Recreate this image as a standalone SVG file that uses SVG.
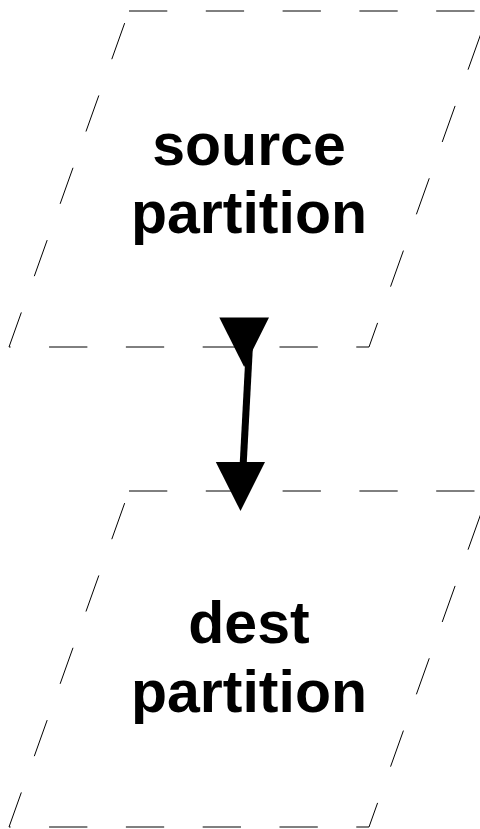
<svg xmlns="http://www.w3.org/2000/svg" width="480" height="829" viewBox="0 0 480 829">
<style>
.shape{fill:none;stroke:#000;stroke-width:1;stroke-dasharray:38.3 38.5}
.lbl{font-family:"Liberation Sans",Arial,sans-serif;font-weight:bold;font-size:59px;fill:#000;text-anchor:middle}
.arr{fill:#000;stroke:none}
</style>
<rect width="480" height="829" fill="#fff"/>
<g id="source">
<path class="shape" d="M129,11 L489,11 L369,347 L9,347 Z"/>
<text class="lbl" x="249" y="165">source</text>
<text class="lbl" x="249" y="233">partition</text>
</g>
<g id="dest">
<path class="shape" d="M129,491 L489,491 L369,827 L9,827 Z"/>
<text class="lbl" x="249" y="643">dest</text>
<text class="lbl" x="249" y="712">partition</text>
</g>
<g id="connectors">
<line x1="249.5" y1="345" x2="243.2" y2="464" stroke="#000" stroke-width="7"/>
<polygon class="arr" points="219.3,317.5 269,317.5 244.2,367"/>
<polygon class="arr" points="215.8,462 265,462 240.5,511"/>
</g>
</svg>
